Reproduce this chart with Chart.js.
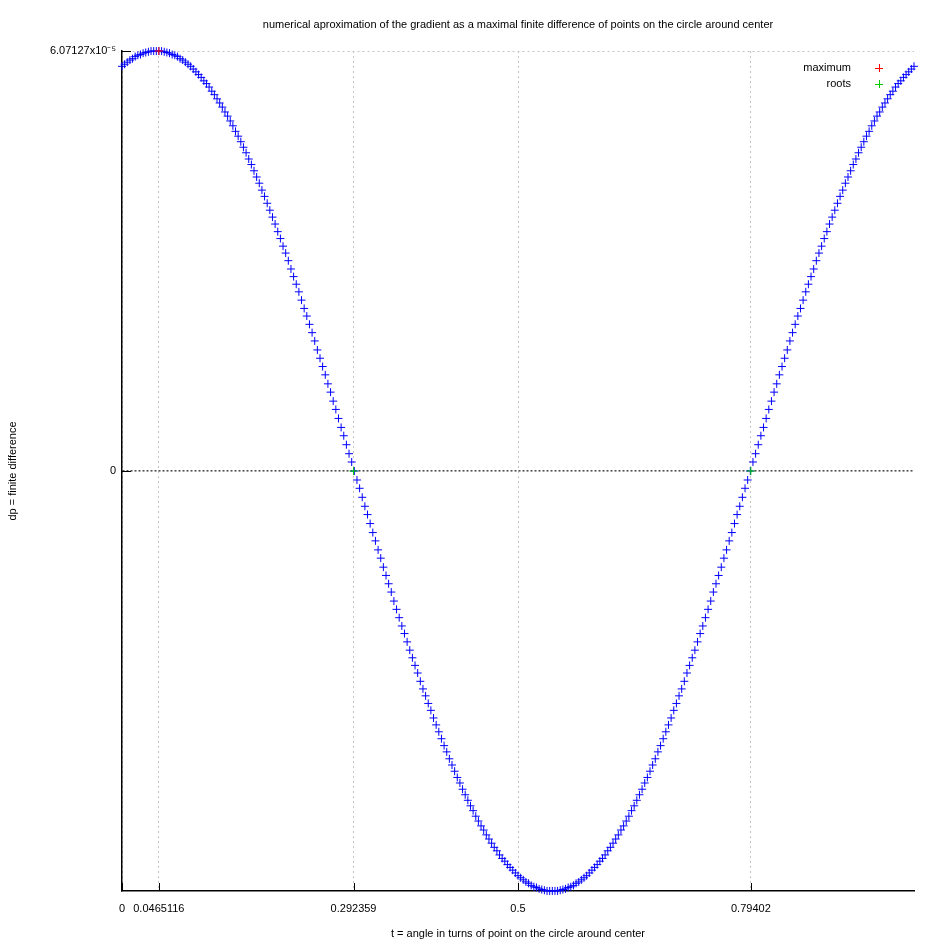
<!DOCTYPE html>
<html>
<head>
<meta charset="utf-8">
<title>finite difference</title>
<script src="https://cdn.jsdelivr.net/npm/chart.js@4.4.1/dist/chart.umd.min.js"></script>
<style>
  html, body { margin: 0; padding: 0; background: #fff; }
  #wrap { width: 947px; height: 947px; }
</style>
</head>
<body>
<div id="wrap"><canvas id="dpChart" width="947" height="947"></canvas></div>
<script>
const FONT = '"Liberation Sans", Arial, sans-serif'

const chartTitle = 'numerical aproximation of the gradient as a maximal finite difference of points on the circle around center'
const xTitle = 't = angle in turns of point on the circle around center'
const yTitle = 'dp = finite difference'

// samples of t from 0 to 1, step 1/300; dp given in units of 1e-5
const T_STEP = 1 / 300
const dp = [
  5.85, 5.88, 5.91, 5.94, 5.96, 5.99, 6.01, 6.02, 6.04, 6.05, 6.06, 6.07, 6.07, 6.07,
  6.07, 6.07, 6.06, 6.05, 6.04, 6.02, 6.01, 5.99, 5.96, 5.94, 5.91, 5.88, 5.85, 5.81,
  5.77, 5.73, 5.69, 5.64, 5.60, 5.55, 5.49, 5.44, 5.38, 5.32, 5.26, 5.19, 5.13, 5.06,
  4.99, 4.91, 4.84, 4.76, 4.68, 4.60, 4.51, 4.43, 4.34, 4.25, 4.16, 4.06, 3.97, 3.87,
  3.77, 3.67, 3.57, 3.46, 3.36, 3.25, 3.15, 3.04, 2.92, 2.81, 2.70, 2.59, 2.47, 2.35,
  2.24, 2.12, 2.00, 1.88, 1.75, 1.63, 1.51, 1.39, 1.26, 1.14, 1.01, 0.89, 0.76, 0.63,
  0.51, 0.38, 0.25, 0.13, 0.00,
  -0.13, -0.25, -0.38, -0.51, -0.63, -0.76, -0.89, -1.01, -1.14, -1.26, -1.39, -1.51,
  -1.63, -1.75, -1.88, -2.00, -2.12, -2.24, -2.35, -2.47, -2.59, -2.70, -2.81, -2.92,
  -3.04, -3.15, -3.25, -3.36, -3.46, -3.57, -3.67, -3.77, -3.87, -3.97, -4.06, -4.16,
  -4.25, -4.34, -4.43, -4.51, -4.60, -4.68, -4.76, -4.84, -4.91, -4.99, -5.06, -5.13,
  -5.19, -5.26, -5.32, -5.38, -5.44, -5.49, -5.55, -5.60, -5.64, -5.69, -5.73, -5.77,
  -5.81, -5.85, -5.88, -5.91, -5.94, -5.96, -5.99, -6.01, -6.02, -6.04, -6.05, -6.06,
  -6.07, -6.07, -6.07,
  -6.07, -6.07, -6.06, -6.05, -6.04, -6.02, -6.01, -5.99, -5.96, -5.94, -5.91, -5.88,
  -5.85, -5.81, -5.77, -5.73, -5.69, -5.64, -5.60, -5.55, -5.49, -5.44, -5.38, -5.32,
  -5.26, -5.19, -5.13, -5.06, -4.99, -4.91, -4.84, -4.76, -4.68, -4.60, -4.51, -4.43,
  -4.34, -4.25, -4.16, -4.06, -3.97, -3.87, -3.77, -3.67, -3.57, -3.46, -3.36, -3.25,
  -3.15, -3.04, -2.92, -2.81, -2.70, -2.59, -2.47, -2.35, -2.24, -2.12, -2.00, -1.88,
  -1.75, -1.63, -1.51, -1.39, -1.26, -1.14, -1.01, -0.89, -0.76, -0.63, -0.51, -0.38,
  -0.25, -0.13, 0.00,
  0.13, 0.25, 0.38, 0.51, 0.63, 0.76, 0.89, 1.01, 1.14, 1.26, 1.39, 1.51, 1.63, 1.75,
  1.88, 2.00, 2.12, 2.24, 2.35, 2.47, 2.59, 2.70, 2.81, 2.92, 3.04, 3.15, 3.25, 3.36,
  3.46, 3.57, 3.67, 3.77, 3.87, 3.97, 4.06, 4.16, 4.25, 4.34, 4.43, 4.51, 4.60, 4.68,
  4.76, 4.84, 4.91, 4.99, 5.06, 5.13, 5.19, 5.26, 5.32, 5.38, 5.44, 5.49, 5.55, 5.60,
  5.64, 5.69, 5.73, 5.77, 5.81, 5.85
]

const maxT = [0.0465116]
const maxDp = [6.07127]
const rootT = [0.292359, 0.79402]
const rootDp = [0, 0]

const xTicks = [0, 0.0465116, 0.292359, 0.5, 0.79402]
const xTickLabels = ['0', '0.0465116', '0.292359', '0.5', '0.79402']
const yTicks = [0, 6.07127]
const yTickLabels = ['0', '6.07127x10⁻⁵']
const yMin = -6.07127
const yMax = 6.07127

const legendNames = ['maximum', 'roots']
const legendColors = ['#ff0000', '#00cc00']

Chart.defaults.font.family = FONT
Chart.defaults.font.size = 11
Chart.defaults.color = '#000'

// gnuplot-like extras: inward ticks, title over the plot, key inside the plot
const gnuplotBits = {
  id: 'gnuplotBits',
  afterDraw (chart) {
    const { ctx, chartArea, scales } = chart
    const { left, right, top, bottom } = chartArea
    ctx.save()
    ctx.strokeStyle = '#000'
    ctx.lineWidth = 1
    ctx.beginPath()
    xTicks.forEach(v => {
      const x = Math.round(scales.x.getPixelForValue(v)) + 0.5
      ctx.moveTo(x, bottom)
      ctx.lineTo(x, bottom - 8)
    })
    yTicks.forEach(v => {
      const y = Math.round(scales.y.getPixelForValue(v)) + 0.5
      ctx.moveTo(left, y)
      ctx.lineTo(left + 9, y)
    })
    ctx.stroke()

    ctx.fillStyle = '#000'
    ctx.font = '11px ' + FONT
    ctx.textAlign = 'center'
    ctx.textBaseline = 'middle'
    ctx.fillText(chartTitle, (left + right) / 2, 25)

    legendNames.forEach((name, i) => {
      const y = top + 17 + i * 16
      ctx.textAlign = 'right'
      ctx.fillStyle = '#000'
      ctx.fillText(name, right - 63, y)
      const mx = right - 35
      ctx.strokeStyle = legendColors[i]
      ctx.beginPath()
      ctx.moveTo(mx - 4, y + 0.5)
      ctx.lineTo(mx + 4, y + 0.5)
      ctx.moveTo(mx + 0.5, y - 4)
      ctx.lineTo(mx + 0.5, y + 4)
      ctx.stroke()
    })
    ctx.restore()
  }
}

const isZero = c => c.tick && c.tick.value === 0

new Chart(document.getElementById('dpChart'), {
  type: 'scatter',
  data: {
    datasets: [
      {
        label: legendNames[0],
        data: maxT.map((t, i) => ({ x: t, y: maxDp[i] })),
        pointStyle: 'cross',
        pointRadius: 4,
        pointBorderWidth: 1,
        pointBorderColor: legendColors[0],
        clip: false
      },
      {
        label: legendNames[1],
        data: rootT.map((t, i) => ({ x: t, y: rootDp[i] })),
        pointStyle: 'cross',
        pointRadius: 4,
        pointBorderWidth: 1,
        pointBorderColor: legendColors[1],
        clip: false
      },
      {
        label: 'dp',
        data: dp.map((v, i) => ({ x: i * T_STEP, y: v })),
        pointStyle: 'cross',
        pointRadius: 4,
        pointBorderWidth: 1,
        pointBorderColor: '#0000ff',
        clip: false
      }
    ]
  },
  options: {
    responsive: false,
    animation: false,
    events: [],
    layout: { padding: { top: 51, right: 33, left: 0, bottom: 0 } },
    plugins: {
      legend: { display: false },
      tooltip: { enabled: false }
    },
    scales: {
      x: {
        type: 'linear',
        min: 0,
        max: 1,
        afterBuildTicks: s => { s.ticks = xTicks.map(v => ({ value: v })) },
        afterFit: s => { s.height = 56 },
        ticks: {
          autoSkip: false,
          maxRotation: 0,
          padding: 11,
          callback: (v, i) => xTickLabels[i]
        },
        grid: { drawTicks: false, color: '#c4c4c4', lineWidth: 1 },
        border: { color: '#000', width: 1.5, dash: [2, 3] },
        title: { display: true, text: xTitle, padding: { top: 0, bottom: 6 } }
      },
      y: {
        type: 'linear',
        min: yMin,
        max: yMax,
        afterBuildTicks: s => { s.ticks = yTicks.map(v => ({ value: v })) },
        afterFit: s => { s.width = 122 },
        ticks: {
          autoSkip: false,
          padding: 6,
          callback: (v, i) => yTickLabels[i]
        },
        grid: {
          drawTicks: false,
          color: c => (isZero(c) ? '#505050' : '#c4c4c4'),
          lineWidth: c => (isZero(c) ? 1.6 : 1)
        },
        border: { color: '#000', width: 1.5, dash: c => (isZero(c) ? [2, 2] : [2, 3]) },
        title: { display: true, text: yTitle, padding: { top: 6, bottom: 0 } }
      }
    }
  },
  plugins: [gnuplotBits]
})
</script>
</body>
</html>
